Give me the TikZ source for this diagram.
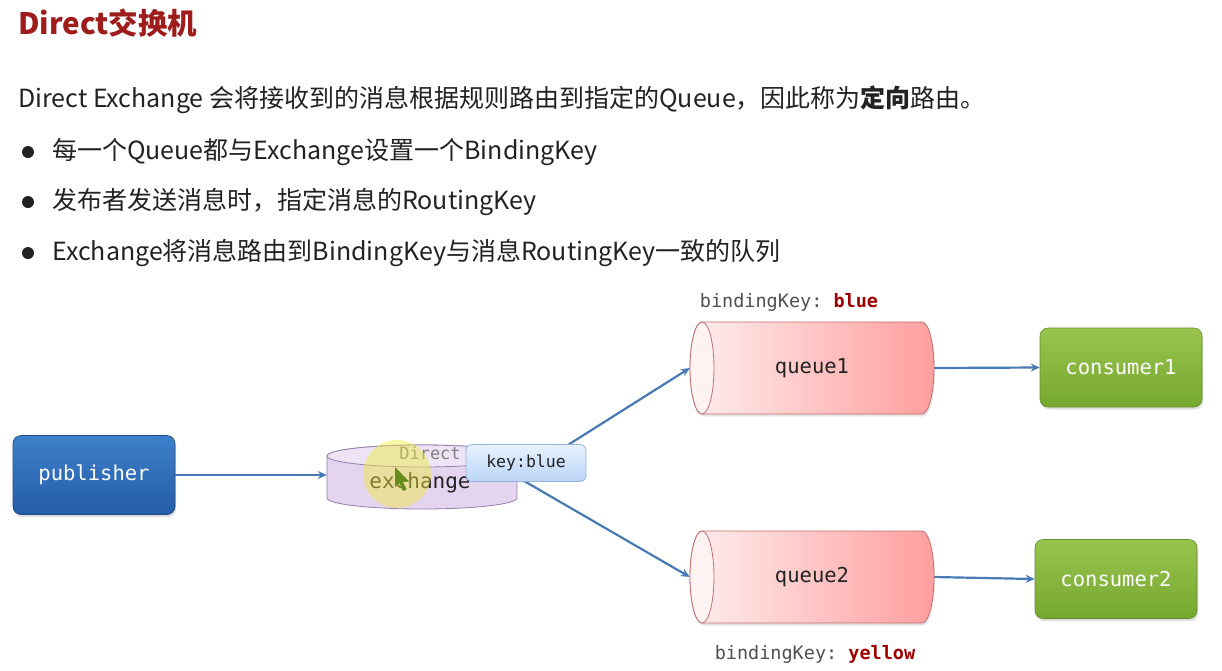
\documentclass[tikz,border=0pt]{standalone}
\usepackage{fontspec}
\setmonofont{DejaVu Sans Mono}
\newfontfamily\cjk{Noto Sans CJK SC}
\usetikzlibrary{arrows.meta,shadows}
\definecolor{titlered}{RGB}{158,28,28}
\definecolor{textdark}{RGB}{34,34,34}
\definecolor{arrowblue}{RGB}{72,122,182}
\definecolor{pubtop}{RGB}{62,128,202}
\definecolor{pubbot}{RGB}{36,92,168}
\definecolor{contop}{RGB}{152,196,78}
\definecolor{conbot}{RGB}{118,168,48}
\definecolor{qleft}{RGB}{255,238,238}
\definecolor{qright}{RGB}{255,158,158}
\definecolor{qend}{RGB}{255,242,242}
\definecolor{qdraw}{RGB}{196,110,110}
\definecolor{exfill}{RGB}{228,212,240}
\definecolor{extop}{RGB}{238,228,246}
\definecolor{exdraw}{RGB}{150,128,172}
\definecolor{keytop}{RGB}{232,242,255}
\definecolor{keybot}{RGB}{186,212,246}
\definecolor{keydraw}{RGB}{150,180,222}
\definecolor{bkgrey}{RGB}{80,80,80}
\definecolor{bkred}{RGB}{160,0,0}
\definecolor{hl}{RGB}{240,236,60}
\definecolor{cursorc}{RGB}{100,140,30}
\tikzset{
  arr/.style={draw=arrowblue, line width=2.2pt, -{Stealth[length=9pt,width=8pt]}},
  monotext/.style={font=\ttfamily\fontsize{#1}{#1}\selectfont},
  pubbox/.style={rounded corners=8pt, minimum width=162pt, minimum height=79pt,
    top color=pubtop, bottom color=pubbot, draw=pubbot!80!black, line width=0.6pt, text=white,
    monotext=20.5, drop shadow={shadow xshift=1pt, shadow yshift=-2.5pt, opacity=0.25}},
  conbox/.style={pubbox, top color=contop, bottom color=conbot, draw=conbot!85!black},
  qnode/.style={minimum width=244pt, minimum height=92pt, inner sep=0pt, text=textdark, monotext=20.5},
  keybox/.style={rounded corners=6pt, minimum width=120pt, minimum height=37pt,
    top color=keytop, bottom color=keybot, draw=keydraw, line width=0.8pt, text=textdark, monotext=16.5},
  bk/.style={text=bkgrey, monotext=18.5, inner sep=0pt},
  bullet/.style={circle, fill=textdark, minimum size=12pt, inner sep=0pt},
  cjkline/.style={anchor=west, inner sep=0pt, text=textdark, font=\cjk\fontsize{25}{29}\selectfont},
  queue/.pic={
    \shadedraw[left color=qleft, right color=qright, draw=qdraw, line width=0.8pt,
      drop shadow={shadow xshift=1pt, shadow yshift=-2.5pt, opacity=0.2}]
      (-110,-46) -- (110,-46) arc[start angle=-90,end angle=90,x radius=12,y radius=46]
      -- (-110,46) arc[start angle=90,end angle=270,x radius=12,y radius=46] -- cycle;
    \filldraw[fill=qend, draw=qdraw, line width=0.8pt] (-110,0) ellipse[x radius=12, y radius=46];
  }
}
\begin{document}
\begin{tikzpicture}[x=1pt,y=-1pt]
\useasboundingbox (0,0) rectangle (1222,670);
\fill[white] (0,0) rectangle (1222,670);

% text block
\node[anchor=west, inner sep=0pt, text=titlered, font=\cjk\bfseries\fontsize{29.5}{33}\selectfont] (title) at (18,23) {Direct交换机};
\node[cjkline] (l1) at (18,100) {Direct Exchange 会将接收到的消息根据规则路由到指定的Queue，因此称为\textbf{定向}路由。};
\node[bullet] (b1) at (28,152) {};
\node[cjkline] (t1) at (52,152) {每一个Queue都与Exchange设置一个BindingKey};
\node[bullet] (b2) at (28,202) {};
\node[cjkline] (t2) at (52,202) {发布者发送消息时，指定消息的RoutingKey};
\node[bullet] (b3) at (28,253) {};
\node[cjkline] (t3) at (52,253) {Exchange将消息路由到BindingKey与消息RoutingKey一致的队列};

% nodes (positions)
\node[pubbox] (pub) at (94,475) {publisher};
\node[minimum width=190pt, minimum height=64pt, inner sep=0pt] (ex) at (422,477) {};
\node[qnode] (q1) at (812,368) {};
\node[qnode] (q2) at (812,577) {};
\node[conbox] (c1) at (1121,367.5) {consumer1};
\node[conbox] (c2) at (1116,579) {consumer2};

% connectors
\draw[arr] (pub.east) -- (pub.east -| ex.west);
\draw[arr] (ex.east) -- (q1.west);
\draw[arr] (ex.east) -- (q2.west);
\draw[arr] (q1.east) -- (c1.west);
\draw[arr] (q2.east) -- (c2.west);

% exchange cylinder
\filldraw[fill=exfill, draw=exdraw, line width=0.8pt]
  (327,456) -- (327,498) arc[start angle=180,end angle=0,x radius=95,y radius=11]
  -- (517,456) arc[start angle=0,end angle=-180,x radius=95,y radius=11] -- cycle;
\filldraw[fill=extop, draw=exdraw, line width=0.8pt] (422,456) ellipse[x radius=95, y radius=11];
\node[text=gray, monotext=17, inner sep=0pt] (exdirect) at (430,453) {Direct};
\node[text=textdark, monotext=21, inner sep=0pt] (exname) at (420,483) {exchange};

% highlight and cursor
\fill[hl, opacity=0.45] (397,474) circle (34);
\fill[cursorc] (395,467) -- (395,487) -- (399.5,483) -- (403,491) -- (406.5,489.5) -- (403,482) -- (409,481.5) -- cycle;

% queues
\pic at (q1) {queue};
\pic at (q2) {queue};
\node[qnode] at (q1) {queue1};
\node[qnode] at (q2) {queue2};

% key box
\node[keybox] (key) at (526,463) {key:blue};

% binding keys
\node[bk] (bk1) at (789,302) {bindingKey: \textcolor{bkred}{\bfseries blue}};
\node[bk] (bk2) at (815,654) {bindingKey: \textcolor{bkred}{\bfseries yellow}};
\end{tikzpicture}
\end{document}
